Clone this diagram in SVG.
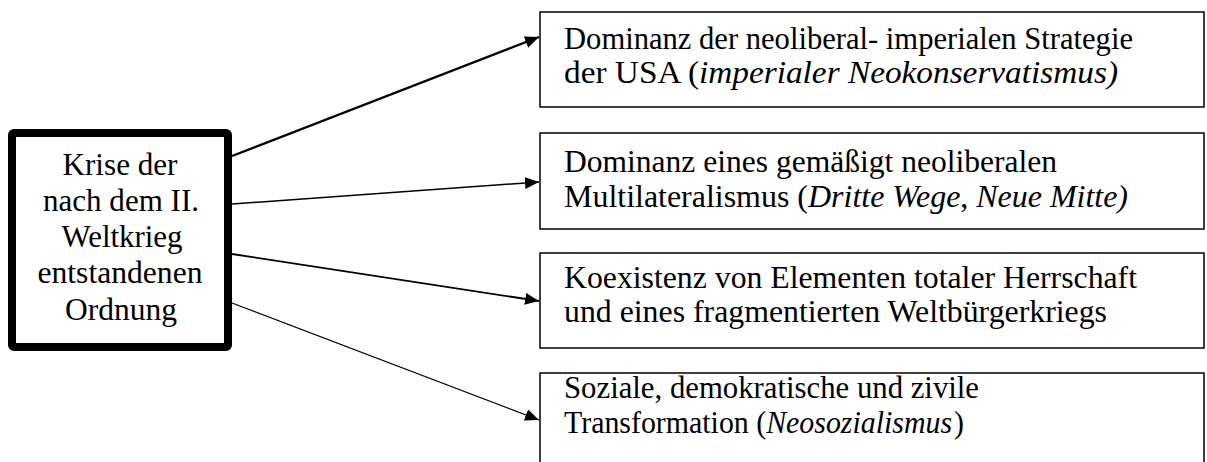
<svg xmlns="http://www.w3.org/2000/svg" width="1207" height="462" viewBox="0 0 1207 462">
<style>
.t{font-family:'Liberation Serif','Times New Roman',Times,serif;font-size:30.5px;fill:#000}
.l{font-size:31px}
.c{text-anchor:middle}
.i{font-style:italic}
.box{fill:#fff;stroke:#000;stroke-width:1.5}
.main{fill:#fff;stroke:#000;stroke-width:8}
.conn{stroke:#000;fill:none}
</style>
<defs>
<marker id="ah" markerUnits="userSpaceOnUse" markerWidth="16" markerHeight="14" refX="14" refY="6" orient="auto">
<path d="M0,0 L14,6 L0,12 z" fill="#000"/>
</marker>
</defs>
<rect width="1207" height="462" fill="#fff"/>
<g id="connectors">
<line class="conn" x1="232" y1="156" x2="539" y2="37" stroke-width="2.2" marker-end="url(#ah)"/>
<line class="conn" x1="232" y1="204" x2="539" y2="182" stroke-width="1.5" marker-end="url(#ah)"/>
<line class="conn" x1="232" y1="254" x2="539" y2="301" stroke-width="1.8" marker-end="url(#ah)"/>
<line class="conn" x1="232" y1="303" x2="539" y2="420" stroke-width="1.1" marker-end="url(#ah)"/>
</g>
<g id="krise">
<rect class="main" x="12" y="133" width="216" height="214" rx="2"/>
<text class="t l c" x="120" y="175" textLength="115" lengthAdjust="spacingAndGlyphs">Krise der</text>
<text class="t l c" x="121" y="211" textLength="156" lengthAdjust="spacingAndGlyphs">nach dem II.</text>
<text class="t l c" x="122" y="247" textLength="121" lengthAdjust="spacingAndGlyphs">Weltkrieg</text>
<text class="t l c" x="120" y="283" textLength="165" lengthAdjust="spacingAndGlyphs">entstandenen</text>
<text class="t l c" x="121" y="320" textLength="112" lengthAdjust="spacingAndGlyphs">Ordnung</text>
</g>
<g id="n1">
<rect class="box" x="540" y="12" width="664" height="95"/>
<text class="t" x="564" y="49" textLength="569" lengthAdjust="spacingAndGlyphs">Dominanz der neoliberal- imperialen Strategie</text>
<text class="t" x="564" y="83" textLength="554" lengthAdjust="spacingAndGlyphs">der USA (<tspan class="i">imperialer Neokonservatismus)</tspan></text>
</g>
<g id="n2">
<rect class="box" x="540" y="133" width="664" height="96"/>
<text class="t" x="564" y="172" textLength="493" lengthAdjust="spacingAndGlyphs">Dominanz eines gemäßigt neoliberalen</text>
<text class="t" x="564" y="207" textLength="564" lengthAdjust="spacingAndGlyphs">Multilateralismus (<tspan class="i">Dritte Wege</tspan>, <tspan class="i">Neue Mitte)</tspan></text>
</g>
<g id="n3">
<rect class="box" x="540" y="253" width="664" height="95"/>
<text class="t" x="564" y="288" textLength="573" lengthAdjust="spacingAndGlyphs">Koexistenz von Elementen totaler Herrschaft</text>
<text class="t" x="564" y="322" textLength="543" lengthAdjust="spacingAndGlyphs">und eines fragmentierten Weltbürgerkriegs</text>
</g>
<g id="n4">
<rect class="box" x="540" y="373" width="664" height="120"/>
<text class="t" x="564" y="398" textLength="415" lengthAdjust="spacingAndGlyphs">Soziale, demokratische und zivile</text>
<text class="t" x="564" y="433" textLength="400" lengthAdjust="spacingAndGlyphs">Transformation (<tspan class="i">Neosozialismus</tspan><tspan dx="2">)</tspan></text>
</g>
</svg>
